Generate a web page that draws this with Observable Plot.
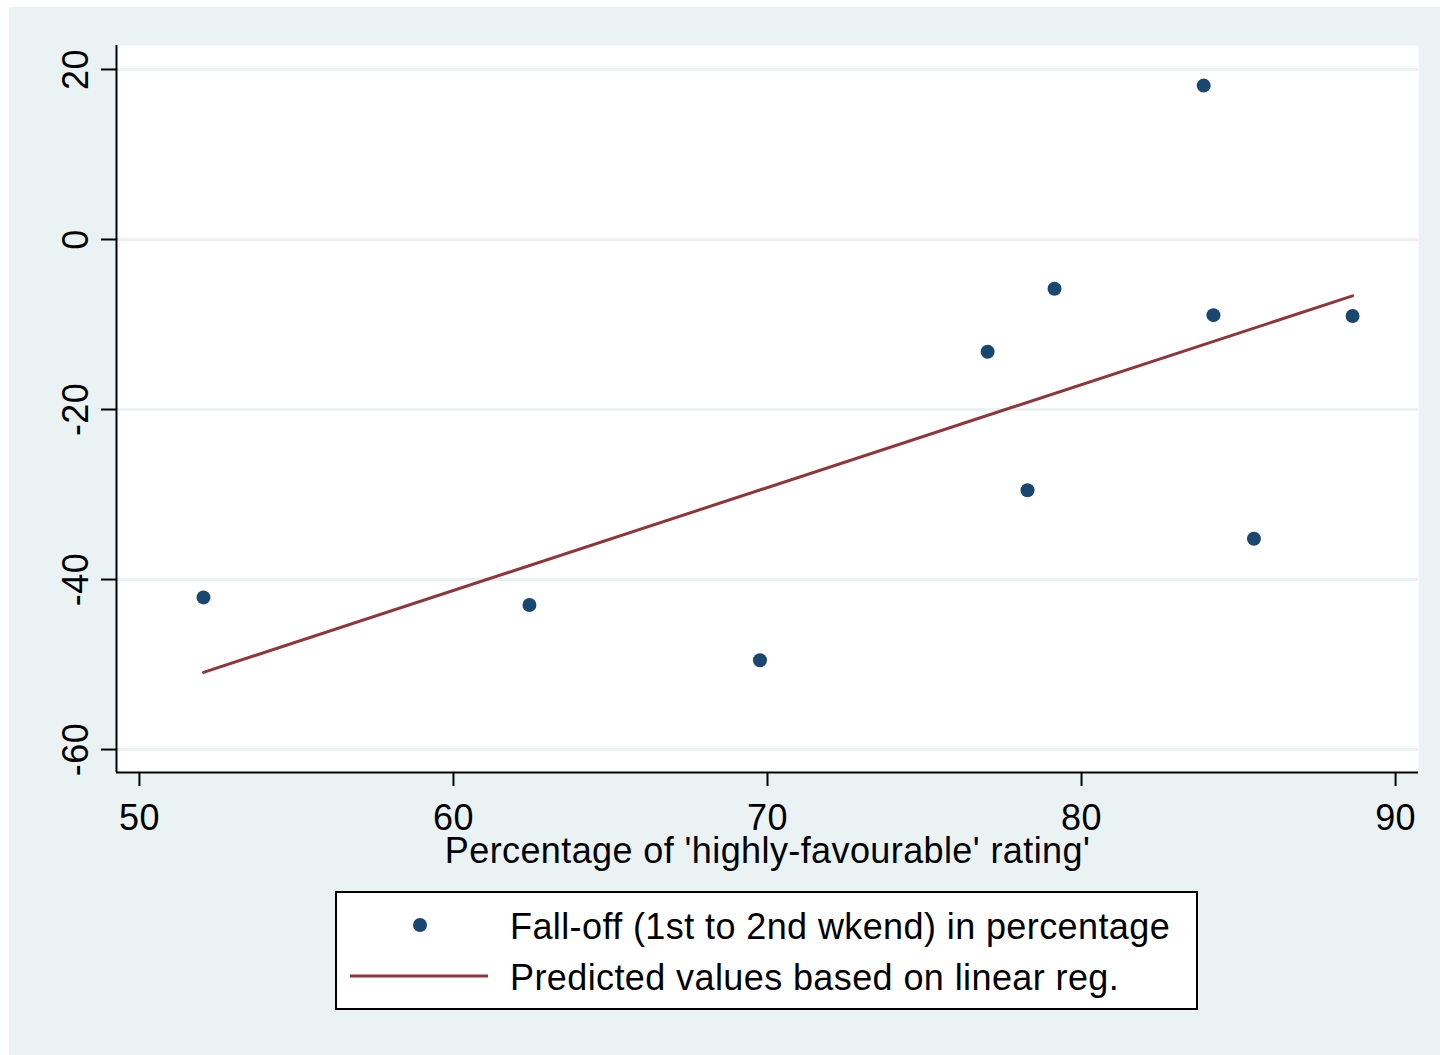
<!DOCTYPE html>
<html><head><meta charset="utf-8">
<script src="https://cdn.jsdelivr.net/npm/d3@7"></script>
<script src="https://cdn.jsdelivr.net/npm/@observablehq/plot@0.6"></script>
<style>
html,body{margin:0;padding:0;background:#fff;}
#wrap{position:absolute;left:9px;top:7px;width:1431px;height:1048px;background:#EAF2F3;font-family:"Liberation Sans",Arial,sans-serif;}
#chart{position:absolute;left:0;top:0;}
#legend{position:absolute;left:326px;top:884px;width:863px;height:119px;box-sizing:border-box;border:2px solid #000;background:#fff;}
#legend svg{position:absolute;left:-2px;top:-2px;overflow:visible;}
</style></head><body><div id="wrap"><div id="chart"></div><div id="legend"></div></div>
<script>
// Percentage of 'highly-favourable' rating (x) and fall-off 1st to 2nd weekend in % (y)
const rating  = [52.04, 62.42, 69.76, 77.01, 78.28, 79.14, 83.89, 84.20, 85.49, 88.63];
const falloff = [-42.1, -43.0, -49.5, -13.2, -29.5, -5.8, 18.1, -8.9, -35.2, -9.0];
const xTicks = [50, 60, 70, 80, 90];
const yTicks = [-60, -40, -20, 0, 20];
const xLabel = "Percentage of 'highly-favourable' rating'";
const seriesLabels = ["Fall-off (1st to 2nd wkend) in percentage", "Predicted values based on linear reg."];

const data = rating.map((x, i) => ({x, y: falloff[i]}));
const xDom = [49.27, 90.73];
const yDom = [-62.7, 22.82];
const FS = 36;

const chart = Plot.plot({
  width: 1431, height: 880,
  marginLeft: 107, marginRight: 22, marginTop: 38, marginBottom: 115,
  style: {fontFamily: "'Liberation Sans', Arial, sans-serif", fontSize: FS + "px", letterSpacing: "0.4px", background: "transparent", color: "#000", overflow: "visible"},
  x: {domain: xDom},
  y: {domain: yDom},
  marks: [
    Plot.frame({fill: "white", stroke: "none"}),
    Plot.gridY(yTicks, {stroke: "#EAF2F3", strokeOpacity: 1, strokeWidth: 3}),
    Plot.ruleX([xDom[0]], {stroke: "#000", strokeWidth: 2}),
    Plot.ruleY([yDom[0]], {stroke: "#000", strokeWidth: 2}),
    Plot.axisX(xTicks, {tickSize: 14, tickPadding: 18, strokeWidth: 2, fontSize: FS, tickFormat: d => String(d), label: xLabel, labelAnchor: "center", labelOffset: 90, labelArrow: "none"}),
    Plot.axisY(yTicks, {tickSize: 15, tickPadding: 14, tickRotate: -90, strokeWidth: 2, fontSize: FS, tickFormat: d => String(d), label: null}),
    Plot.linearRegressionY(data, {x: "x", y: "y", stroke: "#90353B", strokeWidth: 3, ci: 0}),
    Plot.dot(data, {x: "x", y: "y", r: 7, fill: "#1A476F"})
  ]
});
document.getElementById("chart").append(chart);

// Legend
const lg = d3.select("#legend").append("svg").attr("width", 863).attr("height", 119);
lg.append("circle").attr("cx", 85).attr("cy", 34).attr("r", 7).attr("fill", "#1A476F");
lg.append("line").attr("x1", 15).attr("x2", 153).attr("y1", 85).attr("y2", 85).attr("stroke", "#90353B").attr("stroke-width", 3);
lg.selectAll("text").data(seriesLabels).join("text")
  .attr("x", 175).attr("y", (d, i) => i === 0 ? 48 : 99)
  .attr("font-family", "'Liberation Sans', Arial, sans-serif").attr("font-size", FS).attr("fill", "#000")
  .style("letter-spacing", "0.4px")
  .text(d => d);
</script></body></html>
